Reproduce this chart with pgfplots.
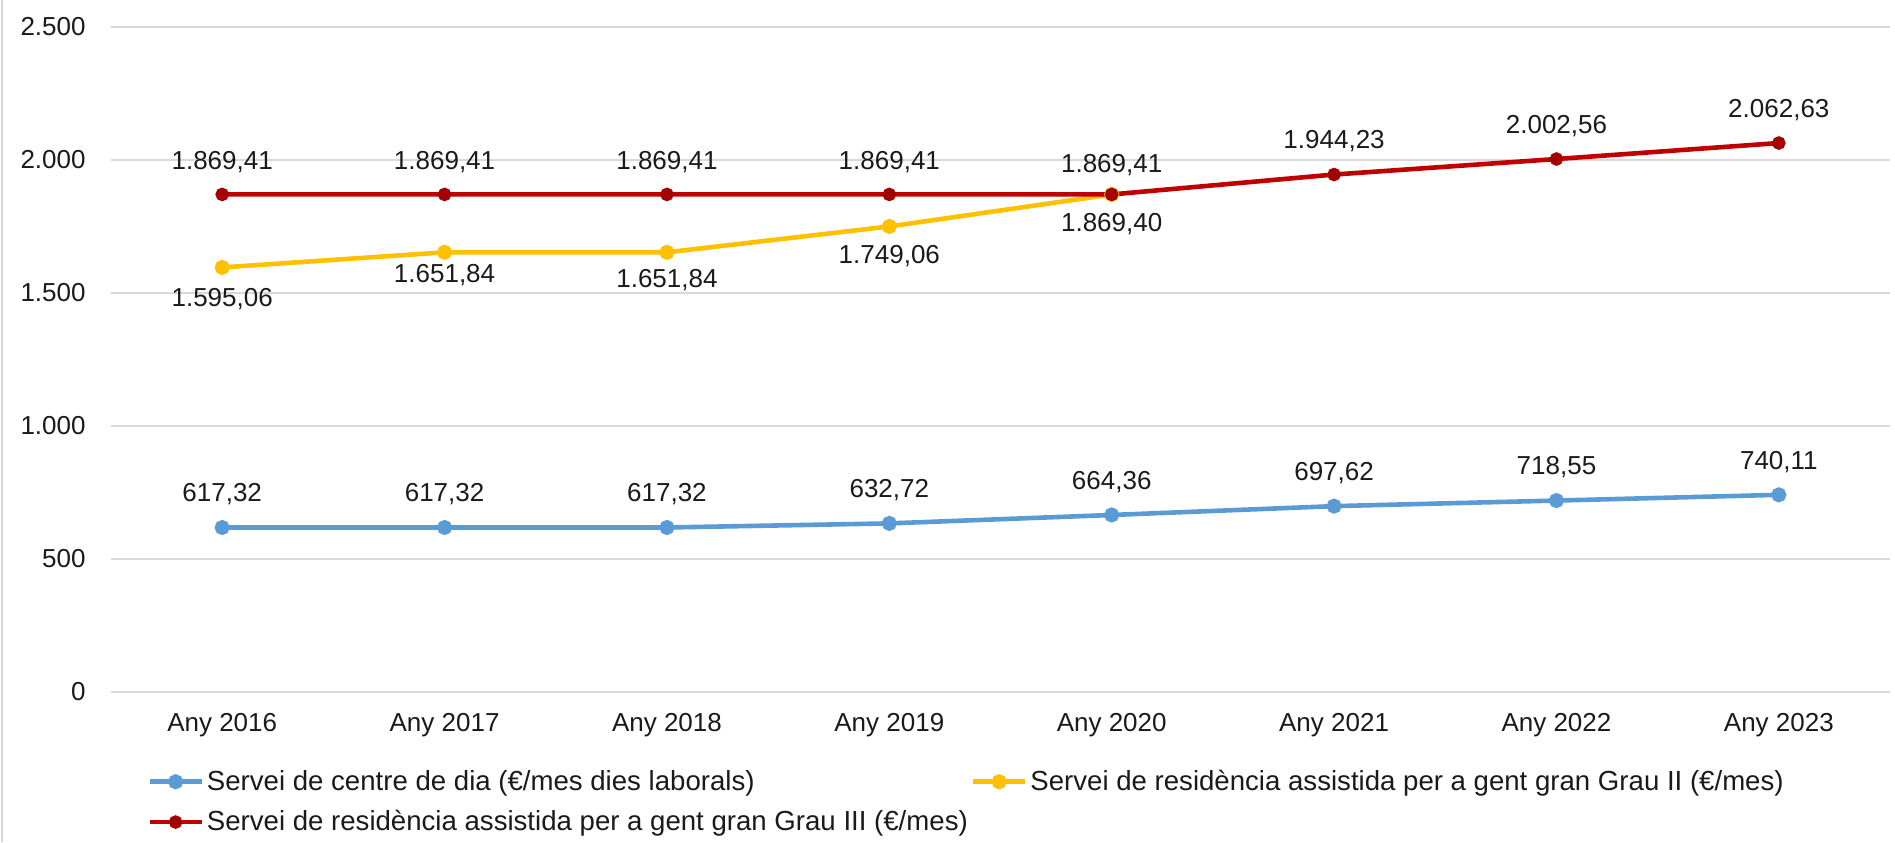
\documentclass[border=0pt]{standalone}
\usepackage{fontspec}
\setmainfont{Liberation Sans}
\usepackage{pgfplots}
\pgfplotsset{compat=1.18}
\definecolor{cblue}{HTML}{5B9BD5}
\definecolor{cyel}{HTML}{FFC000}
\definecolor{cred}{HTML}{C00000}
\definecolor{cgrid}{HTML}{D9D9D9}
\definecolor{ctext}{HTML}{1A1A1A}

\pgfplotstableread{
x y lab dy
0 617.32 617,32 16.5
1 617.32 617,32 16.5
2 617.32 617,32 16.5
3 632.72 632,72 16.5
4 664.36 664,36 16.5
5 697.62 697,62 16.5
6 718.55 718,55 16.5
7 740.11 740,11 16.5
}\tblue
\pgfplotstableread{
x y lab dy
0 1595.06 1.595,06 -15.8
1 1651.84 1.651,84 -11.5
2 1651.84 1.651,84 -13.8
3 1749.06 1.749,06 -15
4 1869.40 1.869,40 -15
}\tyel
\pgfplotstableread{
x y lab dy
0 1869.41 1.869,41 16.4
1 1869.41 1.869,41 16.4
2 1869.41 1.869,41 16.4
3 1869.41 1.869,41 16.4
4 1869.41 1.869,41 14.5
5 1944.23 1.944,23 16.5
6 2002.56 2.002,56 16.5
7 2062.63 2.062,63 16.5
}\tred

\begin{document}
\begin{tikzpicture}[x=1bp,y=1bp]
\path[use as bounding box] (0,0) rectangle (947.5,421);
\draw[cgrid, line width=1bp] (1,0) -- (1,421);
\begin{axis}[
  at={(55.5bp,75.15bp)}, anchor=south west, scale only axis,
  width=889.5bp, height=332.5bp,
  xmin=-0.5, xmax=7.5, ymin=0, ymax=2500,
  axis line style={draw=none},
  ymajorgrids, grid style={cgrid, line width=0.9bp},
  major tick length=0pt,
  xtick={0,...,7},
  xticklabels={Any 2016,Any 2017,Any 2018,Any 2019,Any 2020,Any 2021,Any 2022,Any 2023},
  ytick={0,500,...,2500},
  font=\fontsize{13bp}{15bp}\selectfont,
  tick label style={text=ctext, font=\fontsize{13bp}{15bp}\selectfont},
  yticklabel style={anchor=east, inner sep=0pt, xshift=-12.5bp,
    /pgf/number format/.cd, 1000 sep={.}, assume math mode=true},
  xticklabel style={anchor=north, inner sep=0pt, yshift=-10.6bp},
  clip=false,
  point meta=explicit symbolic,
  nodes near coords,
  visualization depends on={\thisrow{dy}\as\dy},
  nodes near coords style={anchor=center, yshift=\dy bp, inner sep=0pt, text=ctext,
    font=\fontsize{13bp}{15bp}\selectfont},
  legend columns=2,
  legend cell align=left,
  legend style={at={(axis description cs:0.0202,0)}, anchor=west, yshift=-55.1bp,
    draw=none, fill=none, inner sep=0pt, row sep=5.5bp,
    nodes={inner sep=1.5bp, text=ctext}, font=\fontsize{13.8bp}{16bp}\selectfont},
  legend image code/.code={\draw[mark repeat=2,mark phase=2,#1] plot coordinates {(0bp,0bp) (13bp,0bp) (26bp,0bp)};},
]
\addplot[cblue, line width=2.3bp, mark=*, mark size=2.6bp, mark options={solid}] table[x=x,y=y,meta=lab] {\tblue};
\addlegendentry{Servei de centre de dia (€/mes dies laborals)}
\addplot[cyel, line width=2.3bp, mark=*, mark size=2.6bp, mark options={solid}] table[x=x,y=y,meta=lab] {\tyel};
\addlegendentry{Servei de residència assistida per a gent gran Grau II (€/mes)}
\addplot[cred, line width=2.3bp, mark=*, mark size=2.2bp, mark options={solid, fill=cred!85!black, draw=cred!85!black}] table[x=x,y=y,meta=lab] {\tred};
\addlegendentry{Servei de residència assistida per a gent gran Grau III (€/mes)}
\end{axis}
\end{tikzpicture}
\end{document}
